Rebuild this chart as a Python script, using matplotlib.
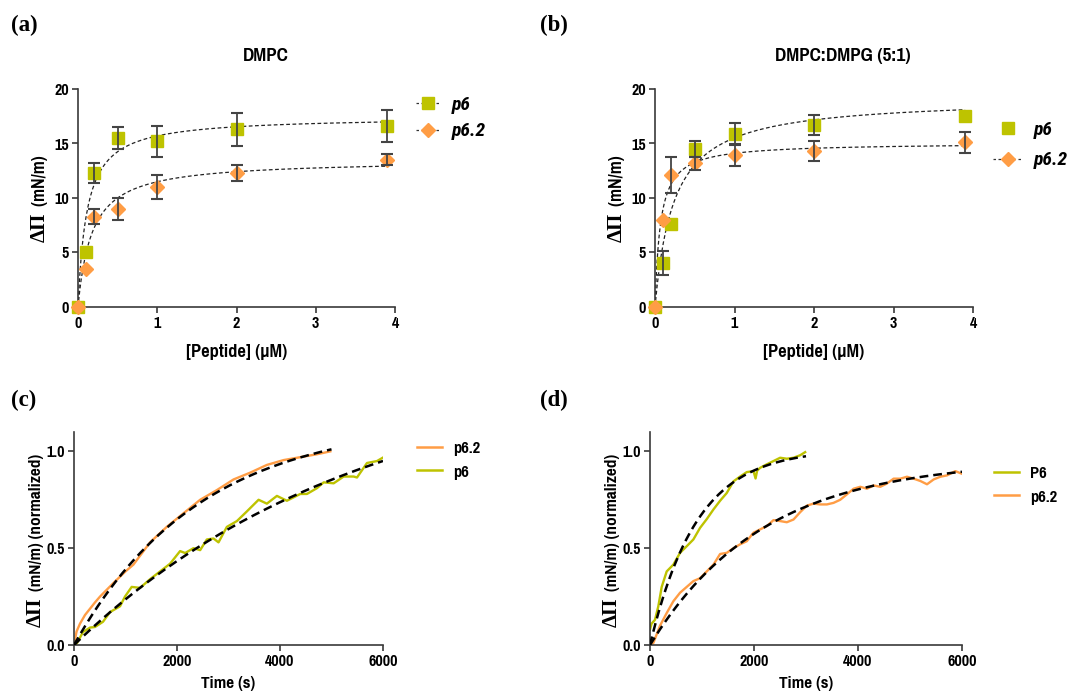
import numpy as np
import matplotlib
matplotlib.use('Agg')
import matplotlib.pyplot as plt
from matplotlib.lines import Line2D
from matplotlib import font_manager as fm

WMAP = {'bold': 700, 'heavy': 800, 'black': 900, 'extra bold': 800, 'semibold': 600, 'demibold': 600}


def has_bold(name, style='normal'):
    for f in fm.fontManager.ttflist:
        if f.name == name and f.style == style:
            w = f.weight if isinstance(f.weight, int) else WMAP.get(str(f.weight), 400)
            if w >= 700:
                return True
    return False


# Arial Narrow look-alikes
SANS = next((n for n in ['Pragati Narrow', 'Archivo Narrow', 'PT Sans Narrow', 'Arimo', 'Liberation Sans']
             if has_bold(n)), 'DejaVu Sans')
ITAL = next((n for n in ['Archivo Narrow', 'Roboto Condensed', 'Fira Sans Condensed', 'IBM Plex Sans Condensed',
                         'Asap Condensed', 'Arimo', 'Liberation Sans'] if has_bold(n, 'italic')), SANS)

plt.rcParams['font.family'] = [SANS, 'DejaVu Sans']
plt.rcParams['font.weight'] = 'bold'

GREEN = '#bec300'
ORANGE = '#ff9d45'

# binding isotherms (a) DMPC, (b) DMPC:DMPG
conc = [0, 0.1, 0.2, 0.5, 1, 2, 3.9]
a_p6 = [0, 5.0, 12.3, 15.5, 15.2, 16.3, 16.6]
a_p6_err = [0, 0, 0.9, 1.0, 1.45, 1.5, 1.5]
a_p62 = [0, 3.5, 8.3, 9.0, 11.0, 12.3, 13.5]
a_p62_err = [0, 0, 0.72, 1.0, 1.1, 0.7, 0.5]
b_p6 = [0, 4.0, 7.6, 14.5, 15.9, 16.7, 17.5]
b_p6_err = [0, 1.1, 0, 0.7, 0.95, 0.9, 0]
b_p62 = [0, 8.0, 12.1, 13.2, 13.9, 14.3, 15.1]
b_p62_err = [0, 0, 1.65, 0.6, 1.0, 0.9, 0.95]
# hyperbolic fits (Bmax, Kd)
a_fit_p6 = (17.47, 0.113)
a_fit_p62 = (13.5, 0.175)
b_fit_p6 = (19.2, 0.237)
b_fit_p62 = (15.06, 0.068)

# kinetics (c) DMPC, (d) DMPC:DMPG
c_p62_t = [0, 50, 116, 214, 408, 505, 765, 1000, 1153, 1477, 1801, 2125, 2450, 2774, 3098, 3421, 3745, 4070, 4394, 4718, 4977]
c_p62_y = [0, 0.07, 0.11, 0.155, 0.22, 0.25, 0.32, 0.38, 0.415, 0.53, 0.61, 0.68, 0.75, 0.80, 0.855, 0.89, 0.93, 0.955, 0.97, 0.985, 1.0]
c_p6_t = [0, 58, 175, 311, 408, 563, 700, 894, 990, 1120, 1283, 1477, 1672, 1866, 2060, 2158, 2320, 2450, 2579, 2709,
          2806, 2968, 3163, 3357, 3584, 3745, 3940, 4134, 4394, 4523, 4718, 4848, 5042, 5236, 5430, 5495, 5689, 5883, 6013]
c_p6_y = [0, 0.01, 0.067, 0.09, 0.093, 0.12, 0.17, 0.2, 0.25, 0.30, 0.295, 0.34, 0.38, 0.42, 0.485, 0.475, 0.50, 0.49, 0.545, 0.55,
          0.53, 0.61, 0.64, 0.69, 0.75, 0.73, 0.77, 0.745, 0.78, 0.78, 0.81, 0.84, 0.835, 0.87, 0.87, 0.865, 0.94, 0.95, 0.97]
d_p6_t = [0, 30, 96, 160, 225, 321, 449, 578, 706, 834, 963, 1091, 1220, 1348, 1476, 1605, 1733, 1861, 1990, 2030,
          2060, 2118, 2246, 2375, 2503, 2631, 2760, 2888, 2984]
d_p6_y = [0.08, 0.11, 0.13, 0.2, 0.30, 0.38, 0.415, 0.476, 0.51, 0.545, 0.605, 0.65, 0.70, 0.745, 0.785, 0.845, 0.87, 0.893, 0.898, 0.86,
          0.9, 0.915, 0.933, 0.95, 0.967, 0.962, 0.967, 0.98, 0.996]
d_p62_t = [0, 64, 193, 321, 449, 578, 706, 834, 963, 1091, 1220, 1348, 1476, 1605, 1733, 1861, 1990, 2118, 2246, 2375,
           2503, 2631, 2760, 2888, 3017, 3145, 3273, 3402, 3530, 3658, 3787, 3915, 4044, 4172, 4300, 4429, 4557, 4685, 4814, 4942,
           5070, 5199, 5327, 5455, 5584, 5712, 5872, 6000]
d_p62_y = [0, 0.01, 0.1, 0.165, 0.226, 0.27, 0.30, 0.33, 0.345, 0.38, 0.415, 0.47, 0.476, 0.50, 0.52, 0.536, 0.58, 0.597, 0.614, 0.645,
           0.64, 0.634, 0.648, 0.686, 0.72, 0.73, 0.726, 0.726, 0.734, 0.75, 0.778, 0.807, 0.817, 0.807, 0.824, 0.817, 0.834, 0.859, 0.859, 0.869,
           0.859, 0.847, 0.83, 0.855, 0.869, 0.876, 0.898, 0.884]
# one-phase association fits (Ymax, k) and end time
c_fit_p62 = (1.16, 4.1e-4, 5000)
c_fit_p6 = (1.45, 1.776e-4, 6000)
d_fit_p6 = (1.011, 1.11e-3, 3000)
d_fit_p62 = (0.955, 4.6e-4, 6000)

W, H = 1076, 699
fig = plt.figure(figsize=(W / 100, H / 100), dpi=100)


def px_axes(x0, x1, y0, y1):
    # pixel box -> axes
    return fig.add_axes([x0 / W, 1 - y1 / H, (x1 - x0) / W, (y1 - y0) / H])


def style(ax):
    for s in ['top', 'right']:
        ax.spines[s].set_visible(False)
    for s in ['left', 'bottom']:
        ax.spines[s].set_linewidth(1.2)
        ax.spines[s].set_color('#3a3a3a')
    ax.tick_params(direction='out', length=4, width=1.2, color='#3a3a3a', labelsize=12.5, pad=2.5)
    for lab in ax.get_xticklabels() + ax.get_yticklabels():
        lab.set_fontweight('bold')


def ylab(x_px, y_px, rest, rest_size):
    fig.text(x_px / W, 1 - y_px / H, 'ΔΠ', rotation=90, rotation_mode='anchor', ha='right', va='center',
             fontsize=15, family='Liberation Serif', weight='bold')
    fig.text(x_px / W, 1 - (y_px - 3) / H, rest, rotation=90, rotation_mode='anchor', ha='left', va='center',
             fontsize=rest_size, weight='bold')


def binding(ax, p6, p6e, p62, p62e, fit6, fit62):
    xs = np.linspace(0, conc[-1], 300)
    ax.plot(xs, fit6[0] * xs / (fit6[1] + xs), ls=(0, (3, 2)), color='#222222', lw=0.9, zorder=2)
    ax.plot(xs, fit62[0] * xs / (fit62[1] + xs), ls=(0, (3, 2)), color='#222222', lw=0.9, zorder=2)
    ax.plot(conc, p6, 's', color=GREEN, ms=8.2, mec=GREEN, zorder=3, clip_on=False)
    ax.plot(conc, p62, 'D', color=ORANGE, ms=7.5, mec=ORANGE, zorder=3, clip_on=False)
    for y, e in [(p6, p6e), (p62, p62e)]:
        xe = [c for c, v in zip(conc, e) if v > 0]
        ye = [a for a, v in zip(y, e) if v > 0]
        ee = [v for v in e if v > 0]
        ax.errorbar(xe, ye, yerr=ee, fmt='none', ecolor='#444444', elinewidth=1.3, capsize=4.5, capthick=1.5, zorder=4)
    ax.set_xlim(0, 4)
    ax.set_ylim(0, 20)
    ax.set_xticks([0, 1, 2, 3, 4])
    ax.set_yticks([0, 5, 10, 15, 20])
    ax.set_xlabel('[Peptide] (μM)', fontsize=14.5, fontweight='bold', labelpad=9)
    style(ax)


leg_kw = dict(bbox_transform=fig.transFigure, frameon=False, borderpad=0, borderaxespad=0, loc='center left')
ital = {'size': 14, 'weight': 'bold', 'style': 'italic', 'family': ITAL}

# (a)
ax_a = px_axes(78, 395, 89, 307)
binding(ax_a, a_p6, a_p6_err, a_p62, a_p62_err, a_fit_p6, a_fit_p62)
ylab(40, 213, ' (mN/m)', 14)
fig.text(266 / W, 1 - 56 / H, 'DMPC', ha='center', va='center', fontsize=15, weight='bold')
h_a = [Line2D([], [], ls=(0, (2, 2)), color='#333333', lw=0.9, marker='s', ms=8.2, mfc=GREEN, mec=GREEN),
       Line2D([], [], ls=(0, (2, 2)), color='#333333', lw=0.9, marker='D', ms=7.5, mfc=ORANGE, mec=ORANGE)]
ax_a.legend(h_a, ['p6', 'p6.2'], bbox_to_anchor=(416 / W, 1 - 118 / H), handlelength=1.25, handletextpad=0.6,
            labelspacing=0.45, prop=ital, **leg_kw)

# (b)
ax_b = px_axes(655, 973, 89, 307)
binding(ax_b, b_p6, b_p6_err, b_p62, b_p62_err, b_fit_p6, b_fit_p62)
ylab(617, 213, ' (mN/m)', 14)
fig.text(843 / W, 1 - 56 / H, 'DMPC:DMPG (5:1)', ha='center', va='center', fontsize=15, weight='bold')
h_b = [Line2D([], [], ls='none', marker='s', ms=8.2, mfc=GREEN, mec=GREEN),
       Line2D([], [], ls=(0, (2, 2)), color='#333333', lw=0.9, marker='D', ms=7.5, mfc=ORANGE, mec=ORANGE)]
ax_b.legend(h_b, ['p6', 'p6.2'], bbox_to_anchor=(993 / W, 1 - 145 / H), handlelength=1.5, handletextpad=0.6,
            labelspacing=0.65, prop=ital, **leg_kw)


def kinetics(ax, series, fits):
    for (t, y, col) in series:
        ax.plot(t, y, color=col, lw=1.7, zorder=2)
    for (ym, kk, tend) in fits:
        ts = np.linspace(0, tend, 300)
        ax.plot(ts, ym * (1 - np.exp(-kk * ts)), ls=(0, (3.5, 2)), color='black', lw=1.8, zorder=3)
    ax.set_xlim(0, 6000)
    ax.set_ylim(0, 1.1)
    ax.set_xticks([0, 2000, 4000, 6000])
    ax.set_yticks([0, 0.5, 1.0])
    ax.set_yticklabels(['0.0', '0.5', '1.0'])
    ax.set_xlabel('Time (s)', fontsize=13.5, fontweight='bold', labelpad=5)
    style(ax)
    return [Line2D([], [], color=c, lw=1.8) for (_, _, c) in series]


norm = {'size': 13, 'weight': 'bold'}

# (c)
ax_c = px_axes(74, 383, 432, 645)
hs = kinetics(ax_c, [(c_p62_t, c_p62_y, ORANGE), (c_p6_t, c_p6_y, GREEN)], [c_fit_p62, c_fit_p6])
ax_c.legend(hs, ['p6.2', 'p6'], bbox_to_anchor=(417 / W, 1 - 460 / H), handlelength=1.4, handletextpad=0.6,
            labelspacing=0.45, prop=norm, **leg_kw)
ylab(36, 598, ' (mN/m) (normalized)', 13.5)

# (d)
ax_d = px_axes(650, 962, 432, 645)
hs = kinetics(ax_d, [(d_p6_t, d_p6_y, GREEN), (d_p62_t, d_p62_y, ORANGE)], [d_fit_p6, d_fit_p62])
ax_d.legend(hs, ['P6', 'p6.2'], bbox_to_anchor=(994 / W, 1 - 485 / H), handlelength=1.4, handletextpad=0.6,
            labelspacing=0.45, prop=norm, **leg_kw)
ylab(612, 598, ' (mN/m) (normalized)', 13.5)

# panel letters
for lab, x, y in [('(a)', 11, 25), ('(b)', 540, 25), ('(c)', 11, 400), ('(d)', 540, 400)]:
    fig.text(x / W, 1 - y / H, lab, ha='left', va='center', fontsize=16.5, family='Liberation Serif', weight='bold')

fig.savefig('out.png', dpi=100)
